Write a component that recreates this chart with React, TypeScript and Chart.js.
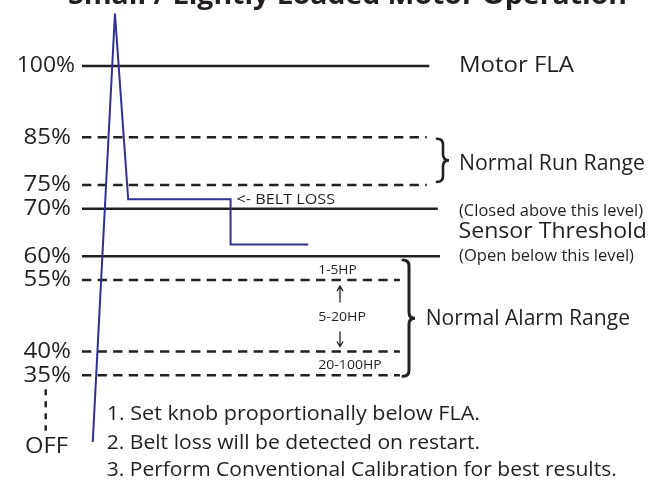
import React, { useEffect, useRef } from 'react';
import { Chart, registerables } from 'chart.js';

Chart.register(...registerables);

// ---------- data ----------
const TITLE = 'Small / Lightly Loaded Motor Operation';

const LEVELS = [100, 85, 75, 70, 60, 55, 40, 35];
const LEVEL_LABELS = ['100%', '85%', '75%', '70%', '60%', '55%', '40%', '35%'];
const LEVEL_SPAN_END = [97, 96.3, 96.3, 99.4, 100, 88.8, 88.8, 88.8];
const SOLID_LEVELS = [100, 70, 60];

const OFF_LEVEL = 20;
const OFF_LABEL = 'OFF';

const TRACE_TIME = [3, 9.2, 12.9, 41.5, 41.5, 63.2];
const TRACE_LOAD = [21, 111, 72, 72, 62.5, 62.5];

const BELT_LOSS_LABEL = '<- BELT LOSS';

const HP_LABELS = ['1-5HP', '5-20HP', '20-100HP'];
const HP_LEVELS = [57.5, 47.5, 37.5];

const RIGHT_LABELS = ['Motor FLA', 'Normal Run Range', '(Closed above this level)', 'Sensor Threshold', '(Open below this level)', 'Normal Alarm Range'];
const RIGHT_LEVELS = [100, 80, 70, 65, 60, 47.5];

const NOTES = [
  '1. Set knob proportionally below FLA.',
  '2. Belt loss will be detected on restart.',
  '3. Perform Conventional Calibration for best results.',
];

const Y_MIN = 13.055;
const Y_MAX = 113.585;

// ---------- styles ----------
const INK = '#231f20';
const BLUE = '#2e3192';
const FONT = '"Open Sans", "Noto Sans", sans-serif';

function fitText(ctx: CanvasRenderingContext2D, str: string, left: number, right: number, capMid: number, size: number, weight = '400') {
  ctx.font = `${weight} ${size}px ${FONT}`;
  const w = ctx.measureText(str).width;
  const sx = (right - left) / w;
  ctx.save();
  ctx.translate(left, capMid + size * 0.357);
  ctx.scale(sx, 1);
  ctx.textAlign = 'left';
  ctx.textBaseline = 'alphabetic';
  ctx.fillStyle = INK;
  ctx.fillText(str, 0, 0);
  ctx.restore();
}

function brace(ctx: CanvasRenderingContext2D, x: number, y1: number, y2: number, w: number, lw: number) {
  const ym = (y1 + y2) / 2;
  const q = w / 2;
  ctx.save();
  ctx.strokeStyle = INK;
  ctx.lineWidth = lw;
  ctx.lineCap = 'round';
  ctx.beginPath();
  ctx.moveTo(x, y1);
  ctx.quadraticCurveTo(x + q, y1, x + q, y1 + q);
  ctx.lineTo(x + q, ym - q);
  ctx.quadraticCurveTo(x + q, ym, x + w, ym);
  ctx.quadraticCurveTo(x + q, ym, x + q, ym + q);
  ctx.lineTo(x + q, y2 - q);
  ctx.quadraticCurveTo(x + q, y2, x, y2);
  ctx.stroke();
  ctx.restore();
}

function arrow(ctx: CanvasRenderingContext2D, x: number, tail: number, tip: number) {
  const dir = tip < tail ? -1 : 1;
  ctx.save();
  ctx.strokeStyle = INK;
  ctx.lineWidth = 1.3;
  ctx.beginPath();
  ctx.moveTo(x, tail);
  ctx.lineTo(x, tip);
  ctx.moveTo(x - 3, tip - dir * 5);
  ctx.lineTo(x, tip);
  ctx.lineTo(x + 3, tip - dir * 5);
  ctx.stroke();
  ctx.restore();
}

const annotationPlugin = {
  id: 'annotations',
  afterDatasetsDraw(chart: any) {
    const ctx: CanvasRenderingContext2D = chart.ctx;
    const xs = chart.scales.x;
    const ys = chart.scales.y;
    const L = xs.left;
    const R = xs.right;
    const yp = (v: number) => ys.getPixelForValue(v);

    // title (cut off at the top)
    ctx.save();
    ctx.font = `700 26px ${FONT}`;
    const tw = ctx.measureText(TITLE).width;
    ctx.translate(68, 4);
    ctx.scale((627 - 68) / tw, 1);
    ctx.fillStyle = INK;
    ctx.textBaseline = 'alphabetic';
    ctx.fillText(TITLE, 0, 0);
    ctx.restore();

    // left level labels
    LEVELS.forEach((v, i) => {
      const lab = LEVEL_LABELS[i];
      const left = lab.length > 3 ? L - 65.3 : L - 58.5;
      const right = lab.length > 3 ? L - 7 : L - 11;
      fitText(ctx, lab, left, right, yp(v) - 1.5, 22);
    });

    // OFF label + dashed connector
    fitText(ctx, OFF_LABEL, L - 57, L - 14, yp(OFF_LEVEL) - 1.5, 22);
    ctx.save();
    ctx.strokeStyle = INK;
    ctx.lineWidth = 2.5;
    ctx.setLineDash([6, 6]);
    ctx.beginPath();
    ctx.moveTo(L - 36.3, yp(35) + 14);
    ctx.lineTo(L - 36.3, yp(OFF_LEVEL) - 16);
    ctx.stroke();
    ctx.restore();

    // right labels
    const rightOffsets = [-1.7, 0.8, 1.5, -2, -0.6, 1.7];
    const rightLeft = [459, 459, 459, 458.5, 459, 425.7];
    const rightRight = [574, 645, 643, 647, 634, 630];
    const rightSize = [22, 22, 15.5, 22, 15.5, 22];
    RIGHT_LABELS.forEach((lab, i) => {
      fitText(ctx, lab, rightLeft[i], rightRight[i], yp(RIGHT_LEVELS[i]) + rightOffsets[i], rightSize[i]);
    });

    // braces
    brace(ctx, R - 3, yp(85) + 1.5, yp(75) - 3, 12, 2.6);
    brace(ctx, R - 37, yp(59.2), yp(34.8), 12, 3);

    // belt loss label next to the drop
    const dropX = xs.getPixelForValue(TRACE_TIME[3]);
    fitText(ctx, BELT_LOSS_LABEL, dropX + 6, dropX + 104.5, yp(TRACE_LOAD[3]) - 1, 15);

    // HP labels
    const hpCap = [269.2 - yp(HP_LEVELS[0]), 317 - yp(HP_LEVELS[1]), 364.5 - yp(HP_LEVELS[2])];
    const hpWidth = [38.4, 47.7, 63.4];
    HP_LABELS.forEach((lab, i) => {
      fitText(ctx, lab, 318.3, 318.3 + hpWidth[i], yp(HP_LEVELS[i]) + hpCap[i], 12.5);
    });
    arrow(ctx, 340, yp(55) + 22.5, yp(55) + 6);
    arrow(ctx, 340, yp(40) - 20, yp(40) - 5);

    // notes
    const noteRight = [480, 480, 616.7];
    const noteMid = [412.5, 442, 469];
    NOTES.forEach((n, i) => fitText(ctx, n, 106.7, noteRight[i], noteMid[i], 20));
  },
};

export default function App() {
  const ref = useRef<HTMLCanvasElement | null>(null);
  useEffect(() => {
    if (!ref.current) return;
    const levelSets = LEVELS.map((v, i) => ({
      data: [{ x: 0, y: v }, { x: LEVEL_SPAN_END[i], y: v }],
      borderColor: INK,
      borderWidth: 2.5,
      borderDash: SOLID_LEVELS.includes(v) ? [] : [9.3, 6.3],
      pointRadius: 0,
      fill: false,
      clip: false as any,
      order: 2,
    }));
    const trace = {
      data: TRACE_TIME.map((t, i) => ({ x: t, y: TRACE_LOAD[i] })),
      borderColor: BLUE,
      borderWidth: 2,
      pointRadius: 0,
      fill: false,
      clip: false as any,
      borderJoinStyle: 'miter' as any,
      order: 1,
    };
    const chart = new Chart(ref.current, {
      type: 'line',
      data: { datasets: [trace, ...levelSets] as any },
      options: {
        animation: false,
        responsive: false,
        maintainAspectRatio: false,
        devicePixelRatio: 1,
        layout: { padding: { left: 82, right: 219, top: 0, bottom: 0 } },
        scales: {
          x: { type: 'linear', min: 0, max: 100, display: false },
          y: { type: 'linear', min: Y_MIN, max: Y_MAX, display: false },
        },
        elements: { line: { tension: 0 } },
        plugins: { legend: { display: false }, tooltip: { enabled: false }, title: { display: false } },
      },
      plugins: [annotationPlugin],
    });
    if ((document as any).fonts) {
      (document as any).fonts.load(`22px "Open Sans"`).then(() => chart.update()).catch(() => {});
      (document as any).fonts.load(`700 26px "Open Sans"`).then(() => chart.update()).catch(() => {});
    }
    return () => chart.destroy();
  }, []);
  return (
    <div style={{ position: 'absolute', left: 0, top: 0, width: 659, height: 481, background: '#fff' }}>
      <canvas ref={ref} width={659} height={481} style={{ display: 'block', width: 659, height: 481 }} />
    </div>
  );
}
